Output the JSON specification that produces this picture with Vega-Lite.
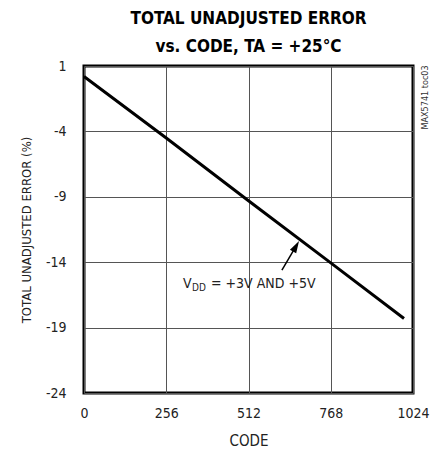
{
  "$schema": "https://vega.github.io/schema/vega-lite/v6.json",
  "width": 329,
  "height": 327,
  "autosize": "none",
  "padding": {"left": 84, "top": 66, "right": 30, "bottom": 64},
  "background": "white",
  "title": {
    "text": ["TOTAL UNADJUSTED ERROR", "vs. CODE, TA = +25°C"],
    "font": "DejaVu Sans Condensed, Liberation Sans, sans-serif",
    "fontWeight": "bold",
    "fontSize": 17,
    "lineHeight": 28,
    "color": "#000000",
    "anchor": "middle",
    "offset": 3
  },
  "config": {
    "view": {"stroke": "#000000", "strokeWidth": 3}
  },
  "layer": [
    {
      "data": {"values": [
        {"code": 0, "tue": 0.2},
        {"code": 256, "tue": -4.5},
        {"code": 512, "tue": -9.3},
        {"code": 768, "tue": -14.05},
        {"code": 996, "tue": -18.3}
      ]},
      "mark": {"type": "line", "color": "#000000", "strokeWidth": 3},
      "encoding": {
        "x": {
          "field": "code", "type": "quantitative",
          "scale": {"domain": [0, 1024], "nice": false, "zero": false},
          "axis": {
            "grid": true,
            "gridColor": "#555555",
            "gridWidth": 1,
            "gridOpacity": 1,
            "domain": false,
            "ticks": false,
            "values": [0, 256, 512, 768, 1024],
            "labelExpr": "toString(datum.value)",
            "labelFont": "DejaVu Sans Condensed",
            "labelColor": "#222222",
            "labelFontSize": 14,
            "labelPadding": 13,
            "labelFlush": false,
            "title": "CODE",
            "titleFont": "DejaVu Sans Condensed",
            "titleFontWeight": "normal",
            "titleColor": "#222222",
            "titleFontSize": 15,
            "titlePadding": 13
          }
        },
        "y": {
          "field": "tue", "type": "quantitative",
          "scale": {"domain": [-24, 1], "nice": false, "zero": false},
          "axis": {
            "grid": true,
            "gridColor": "#555555",
            "gridWidth": 1,
            "gridOpacity": 1,
            "domain": false,
            "ticks": false,
            "values": [-24, -19, -14, -9, -4, 1],
            "labelExpr": "toString(datum.value)",
            "labelFont": "DejaVu Sans Condensed",
            "labelColor": "#222222",
            "labelFontSize": 14,
            "labelPadding": 18,
            "title": "TOTAL UNADJUSTED ERROR (%)",
            "titleFont": "DejaVu Sans Condensed",
            "titleFontWeight": "normal",
            "titleColor": "#222222",
            "titleFontSize": 13,
            "titlePadding": 12
          }
        }
      }
    },
    {
      "data": {"values": [
        {"code": 616, "tue": -14.6},
        {"code": 660, "tue": -12.78}
      ]},
      "mark": {"type": "line", "color": "#000000", "strokeWidth": 1.5},
      "encoding": {
        "x": {"field": "code", "type": "quantitative"},
        "y": {"field": "tue", "type": "quantitative"}
      }
    },
    {
      "data": {"values": [{"code": 660, "tue": -12.78}]},
      "mark": {"type": "point", "shape": "M0,-1L0.6,1L-0.6,1Z", "filled": true, "color": "#000000", "opacity": 1, "size": 144, "angle": 30},
      "encoding": {
        "x": {"field": "code", "type": "quantitative"},
        "y": {"field": "tue", "type": "quantitative"}
      }
    },
    {
      "data": {"values": [{"code": 308, "tue": -16, "label": "V"}]},
      "mark": {"type": "text", "font": "DejaVu Sans Condensed", "fontSize": 14, "align": "left", "baseline": "alphabetic", "color": "#222222"},
      "encoding": {
        "x": {"field": "code", "type": "quantitative"},
        "y": {"field": "tue", "type": "quantitative"},
        "text": {"field": "label"}
      }
    },
    {
      "data": {"values": [{"code": 308, "tue": -16, "label": "DD"}]},
      "mark": {"type": "text", "font": "DejaVu Sans Condensed", "fontSize": 10, "align": "left", "baseline": "alphabetic", "dx": 9, "dy": 3, "color": "#222222"},
      "encoding": {
        "x": {"field": "code", "type": "quantitative"},
        "y": {"field": "tue", "type": "quantitative"},
        "text": {"field": "label"}
      }
    },
    {
      "data": {"values": [{"code": 308, "tue": -16, "label": "= +3V AND +5V"}]},
      "mark": {"type": "text", "font": "DejaVu Sans Condensed", "fontSize": 14, "align": "left", "baseline": "alphabetic", "dx": 28, "color": "#222222"},
      "encoding": {
        "x": {"field": "code", "type": "quantitative"},
        "y": {"field": "tue", "type": "quantitative"},
        "text": {"field": "label"}
      }
    },
    {
      "data": {"values": [{"code": 1061, "tue": -1.4, "label": "MAX5741 toc03"}]},
      "mark": {"type": "text", "font": "DejaVu Sans Condensed", "fontSize": 9, "align": "center", "baseline": "middle", "angle": 270, "color": "#333333"},
      "encoding": {
        "x": {"field": "code", "type": "quantitative"},
        "y": {"field": "tue", "type": "quantitative"},
        "text": {"field": "label"}
      }
    }
  ]
}
